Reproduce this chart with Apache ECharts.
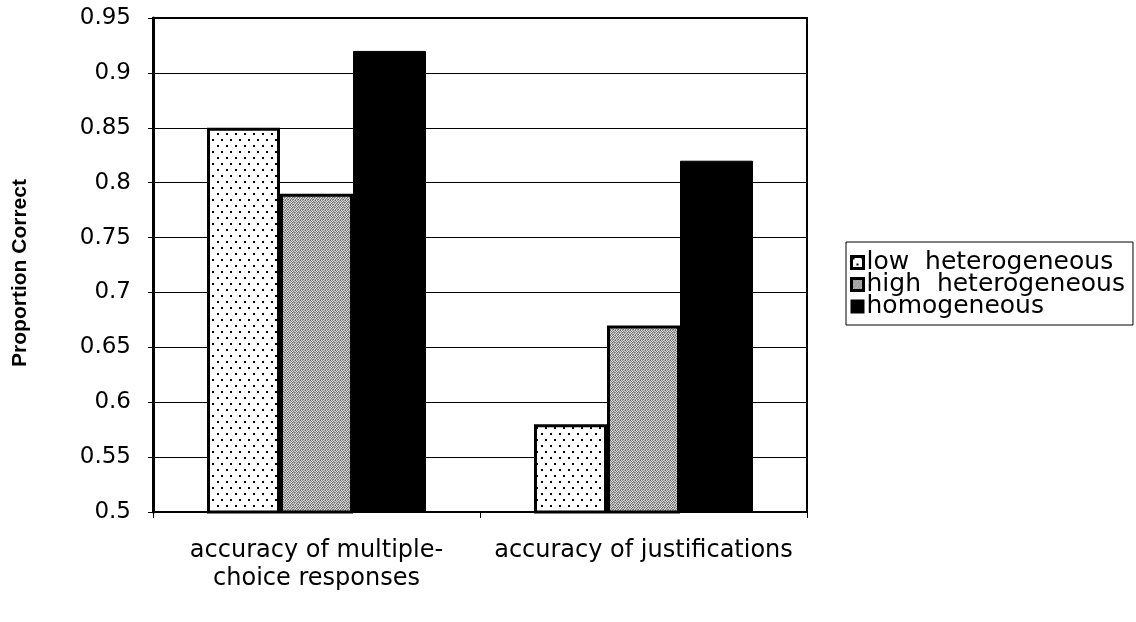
<!DOCTYPE html>
<html>
<head>
<meta charset="utf-8">
<script src="https://cdn.jsdelivr.net/npm/echarts@6/dist/echarts.min.js"></script>
<style>
  html, body { margin: 0; padding: 0; background: #fff; }
  #chart { width: 1136px; height: 622px; }
</style>
</head>
<body>
<div id="chart"></div>
<script>
// Chart data
const categories = ['accuracy of multiple-\nchoice responses', 'accuracy of justifications'];
const seriesNames = ['low  heterogeneous', 'high  heterogeneous', 'homogeneous'];
const lowHeterogeneous = [0.85, 0.58];
const highHeterogeneous = [0.79, 0.67];
const homogeneous = [0.92, 0.82];
const yTicks = { min: 0.5, max: 0.95, interval: 0.05 };

// Fill patterns: dotted white and dithered grey
function dotPattern() {
  const c = document.createElement('canvas');
  c.width = 9; c.height = 12;
  const g = c.getContext('2d');
  g.fillStyle = '#fff';
  g.fillRect(0, 0, 9, 12);
  g.fillStyle = '#000';
  g.fillRect(1, 1, 2, 2);
  g.fillRect(5, 7, 2, 2);
  return c;
}
function greyPattern() {
  const c = document.createElement('canvas');
  c.width = 5; c.height = 5;
  const g = c.getContext('2d');
  const shades = [
    '#666', '#ddd', '#888', '#ccc', '#aaa',
    '#ccc', '#777', '#eee', '#777', '#bbb',
    '#999', '#ddd', '#666', '#bbb', '#777',
    '#ddd', '#777', '#bbb', '#ccc', '#999',
    '#888', '#bbb', '#999', '#666', '#ddd'
  ];
  for (let i = 0; i < 25; i++) {
    g.fillStyle = shades[i];
    g.fillRect(i % 5, Math.floor(i / 5), 1, 1);
  }
  return c;
}

const font = '"DejaVu Sans", "Liberation Sans", Arial, sans-serif';
const titleFont = '"Liberation Sans", Arial, sans-serif';
const chart = echarts.init(document.getElementById('chart'), null, { renderer: 'canvas' });

const lowFill = { image: dotPattern(), repeat: 'repeat' };
const highFill = { image: greyPattern(), repeat: 'repeat' };
const barWidth = 73;

chart.setOption({
  animation: false,
  backgroundColor: '#fff',
  textStyle: { fontFamily: font, color: '#000' },
  grid: {
    left: 153, right: 329, top: 18, bottom: 110,
    show: true, borderColor: '#000', borderWidth: 2
  },
  legend: {
    orient: 'vertical',
    left: 846, top: 242,
    padding: [8, 8, 6, 4],
    icon: 'rect',
    itemWidth: 12, itemHeight: 12, itemGap: -3,
    borderColor: '#000', borderWidth: 1,
    textStyle: { fontFamily: font, fontSize: 25, lineHeight: 22, color: '#000', padding: [0, 0, 0, -2] },
    data: [
      { name: seriesNames[0], itemStyle: { borderColor: '#000', borderWidth: 3 } },
      { name: seriesNames[1], itemStyle: { borderColor: '#000', borderWidth: 3 } },
      { name: seriesNames[2] }
    ]
  },
  xAxis: {
    type: 'category',
    data: categories,
    axisLine: { lineStyle: { color: '#000', width: 2 } },
    axisTick: { show: true, length: 6, lineStyle: { color: '#000', width: 1 } },
    axisLabel: { interval: 0, fontFamily: font, fontSize: 24, color: '#000', lineHeight: 28, margin: 25 }
  },
  yAxis: {
    type: 'value',
    min: yTicks.min, max: yTicks.max, interval: yTicks.interval,
    name: 'Proportion Correct',
    nameLocation: 'middle',
    nameRotate: 90,
    nameGap: 122,
    nameTextStyle: { fontFamily: titleFont, fontSize: 21, fontWeight: 'bold', color: '#000', padding: [0, 16, 0, 0] },
    axisLine: { show: true, lineStyle: { color: '#000', width: 3 } },
    axisTick: { show: true, length: 5, lineStyle: { color: '#000', width: 1 } },
    axisLabel: { fontFamily: font, fontSize: 23, color: '#000', margin: 22 },
    splitLine: { show: true, lineStyle: { color: '#000', width: 1 } }
  },
  series: [
    {
      name: seriesNames[0], type: 'bar', data: lowHeterogeneous,
      barWidth: barWidth, barGap: '0%',
      itemStyle: { color: lowFill, borderColor: '#000', borderWidth: 3 }
    },
    {
      name: seriesNames[1], type: 'bar', data: highHeterogeneous,
      barWidth: barWidth, barGap: '0%',
      itemStyle: { color: highFill, borderColor: '#000', borderWidth: 3 }
    },
    {
      name: seriesNames[2], type: 'bar', data: homogeneous,
      barWidth: barWidth, barGap: '0%',
      itemStyle: { color: '#000', borderColor: '#000', borderWidth: 1 }
    }
  ]
});
</script>
</body>
</html>
